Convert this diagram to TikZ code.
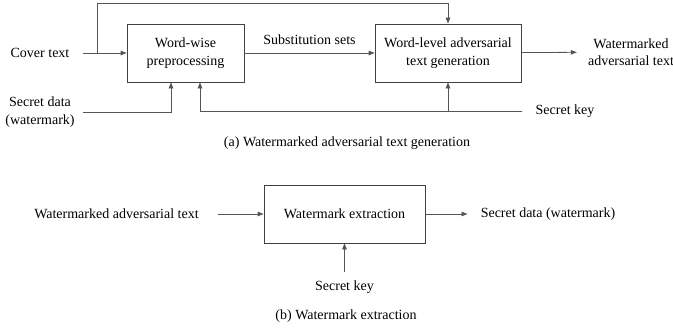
\documentclass[tikz,border=0pt]{standalone}
\usepackage{fontspec}
\setmainfont{Liberation Serif}
\usetikzlibrary{arrows.meta, positioning}
\definecolor{linegray}{HTML}{555555}
\definecolor{boxgray}{HTML}{404040}

\begin{document}
\begin{tikzpicture}[x=1pt,y=-1pt,node distance=1cm,on grid,>={Triangle[length=6pt,width=4.5pt]},
      every node/.style={font=\fontsize{14}{17.5}\selectfont},
      proc/.style={draw=boxgray,line width=0.8pt,minimum width=117pt,minimum height=58pt,align=center,inner sep=0pt},
      conn/.style={draw=linegray,line width=0.8pt}]
      \useasboundingbox (0,0) rectangle (673,332);
      % (a) generation
      \node[proc]   (wordwise) at (185.5,53) {Word-wise\\preprocessing};
      \node[proc, minimum width=146pt]    (advgen) [right=262.5pt of wordwise] {Word-level adversarial\\text generation};
      \node (cover) at (40,53) {Cover text};
      \node[align=center] (secret) at (40,112) {Secret data\\(watermark)};
      \node (key) at (565,111) {Secret key};
      \node[align=center] (wmout) at (631,52) {Watermarked\\adversarial text};
      \coordinate (split) at (97,53);
      \coordinate (toprun) at (97,3);
      \draw[conn, ->, shorten <=10pt] (cover) -- (wordwise);
      \draw[conn, ->] (split) -- (toprun) -| (advgen.north);
      \draw[conn, ->] (wordwise) -- node [above=5pt] {Substitution sets} (advgen);
      \draw[conn, ->, shorten >=7.7pt] (advgen) -- (wmout);
      \draw[conn, ->, shorten <=5pt] (secret) -| ([xshift=-14.5pt]wordwise.south);
      \draw[conn, ->, shorten <=9.7pt] (key) -| ([xshift=14.5pt]wordwise.south);
      \draw[conn, ->] (advgen.south |- key) -- (advgen.south);
      \node (capa) at (347,143) {(a) Watermarked adversarial text generation};
      % (b) extraction
      \node[proc, minimum width=161pt] (extract) at (344.5,214) {Watermark extraction};
      \node (wmin) at (116.5,214) {Watermarked adversarial text};
      \node (secretout) at (548,214) {Secret data (watermark)};
      \node (keyb) [below=73pt of extract] {Secret key};
      \draw[conn, ->, shorten <=15.7pt] (wmin) -- (extract);
      \draw[conn, ->, shorten >=9.7pt] (extract) -- (secretout);
      \draw[conn, ->, shorten <=5.4pt] (keyb) -- (extract);
      \node (capb) at (346,316) {(b) Watermark extraction};
    \end{tikzpicture}
\end{document}
